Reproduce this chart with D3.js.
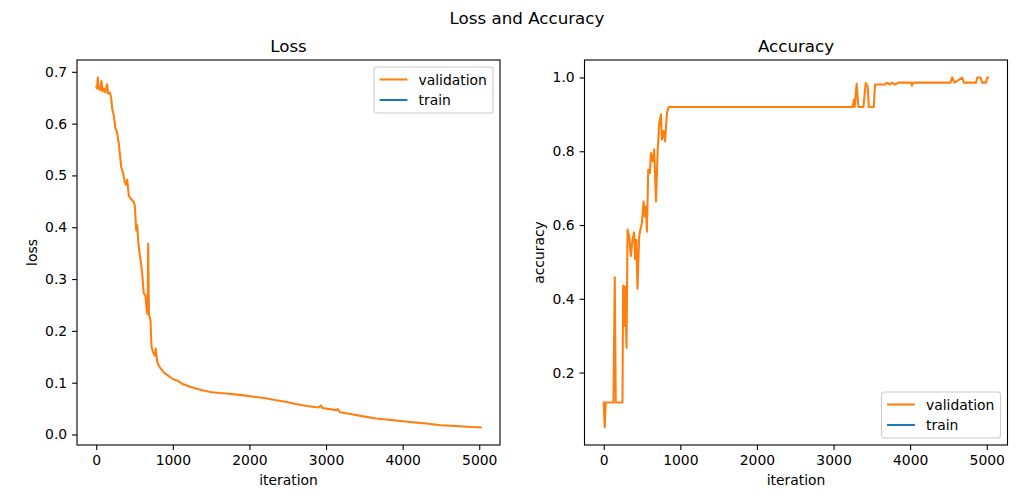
<!DOCTYPE html>
<html>
<head>
<meta charset="utf-8">
<script src="https://cdn.jsdelivr.net/npm/d3@7"></script>
<style>
  body { margin: 0; background: #fff; }
  text { font-family: "DejaVu Sans", sans-serif; fill: #000; }
</style>
</head>
<body>
<div id="chart"></div>
<script>
const width = 1030;
const height = 498;

const xTicks = [0, 1000, 2000, 3000, 4000, 5000];
const lossTicks = [0.0, 0.1, 0.2, 0.3, 0.4, 0.5, 0.6, 0.7];
const accTicks = [0.2, 0.4, 0.6, 0.8, 1.0];
const seriesNames = ["validation", "train"];
const seriesColors = ["#ff7f0e", "#1f77b4"];

// validation loss
const valLossIter = [0, 10, 21, 30, 50, 69, 80, 100, 120, 143, 155, 177, 195, 209, 230, 252, 270, 295, 310, 326,
  350, 373, 390, 404, 425, 450, 470, 490, 505, 522, 535, 550, 569, 585, 600, 621, 643, 659, 672, 678,
  688, 700, 708, 722, 740, 751, 765, 777, 796, 820, 839, 880, 926, 970, 1012, 1060, 1120, 1229, 1300, 1400,
  1490, 1600, 1700, 1838, 1950, 2050, 2142, 2250, 2350, 2490, 2600, 2750, 2900, 2933, 2950, 3050, 3140, 3150, 3184, 3300,
  3488, 3650, 3879, 4100, 4314, 4500, 4748, 4900, 5020];
const valLoss = [0.672, 0.668, 0.689, 0.668, 0.665, 0.682, 0.662, 0.668, 0.660, 0.676, 0.658, 0.660, 0.650, 0.628, 0.615, 0.590, 0.585, 0.561, 0.540, 0.516,
  0.505, 0.487, 0.482, 0.492, 0.461, 0.455, 0.452, 0.449, 0.440, 0.394, 0.404, 0.370, 0.346, 0.330, 0.310, 0.272, 0.269, 0.240, 0.232, 0.368,
  0.232, 0.225, 0.221, 0.169, 0.160, 0.156, 0.152, 0.166, 0.140, 0.132, 0.128, 0.120, 0.115, 0.110, 0.106, 0.104, 0.098, 0.092, 0.089, 0.085,
  0.082, 0.080, 0.079, 0.077, 0.075, 0.073, 0.0713, 0.069, 0.066, 0.0628, 0.059, 0.055, 0.052, 0.056, 0.051, 0.049, 0.047, 0.049, 0.043, 0.040,
  0.035, 0.031, 0.0275, 0.024, 0.0212, 0.018, 0.016, 0.0145, 0.0135];

// validation accuracy
const valAccIter = [0, 13, 26, 127, 144, 157, 245, 253, 271, 279, 298, 311, 332, 354, 375, 397, 410, 425, 441, 463,
  480, 498, 520, 537, 552, 564, 581, 603, 616, 638, 659, 682, 704, 725, 747, 760, 782, 800, 826, 848,
  3250, 3267, 3276, 3302, 3324, 3390, 3420, 3447, 3460, 3525, 3542, 3674, 3696, 3735, 3761, 3801, 3849, 4010, 4024, 4040,
  4526, 4548, 4583, 4679, 4701, 4860, 4876, 4919, 4941, 4990, 5007, 5020];
const valAcc = [0.119, 0.051, 0.119, 0.119, 0.458, 0.119, 0.119, 0.436, 0.326, 0.434, 0.267, 0.588, 0.570, 0.516, 0.560, 0.580, 0.507, 0.560, 0.427, 0.570,
  0.590, 0.605, 0.664, 0.623, 0.650, 0.582, 0.750, 0.741, 0.795, 0.773, 0.805, 0.664, 0.800, 0.877, 0.900, 0.832, 0.855, 0.827, 0.904, 0.920,
  0.920, 0.940, 0.920, 0.983, 0.920, 0.920, 0.985, 0.975, 0.920, 0.920, 0.981, 0.981, 0.986, 0.981, 0.986, 0.981, 0.986, 0.986, 0.978, 0.986,
  0.986, 1.0, 0.986, 1.0, 0.986, 0.986, 1.0, 1.0, 0.986, 0.986, 1.0, 1.0];

// train series is in the legend but has no visible points
const trainLossIter = [];
const trainLoss = [];
const trainAccIter = [];
const trainAcc = [];

const svg = d3.select("#chart").append("svg")
    .attr("width", width)
    .attr("height", height);

svg.append("rect").attr("width", width).attr("height", height).attr("fill", "#fff");

svg.append("text")
    .attr("x", 527)
    .attr("y", 24)
    .attr("text-anchor", "middle")
    .attr("font-size", "16.7px")
    .text("Loss and Accuracy");

function zip(xs, ys) {
    return xs.map((x, i) => ({x: x, y: ys[i]}));
}

function padExtent(values) {
    const [lo, hi] = d3.extent(values);
    const m = (hi - lo) * 0.05;
    return [lo - m, hi + m];
}

function drawPanel(opt) {
    const {left, right, top, bottom} = opt;
    const allX = opt.series.flatMap(s => s.data.map(d => d.x));
    const allY = opt.series.flatMap(s => s.data.map(d => d.y));

    const x = d3.scaleLinear().domain(padExtent(allX)).range([left, right]);
    const y = d3.scaleLinear().domain(padExtent(allY)).range([bottom, top]);

    const g = svg.append("g");

    const line = d3.line()
        .x(d => x(d.x))
        .y(d => y(d.y));

    // series
    opt.series.forEach(s => {
        if (!s.data.length) return;
        g.append("path")
            .attr("fill", "none")
            .attr("stroke", s.color)
            .attr("stroke-width", 2.08)
            .attr("stroke-linejoin", "round")
            .attr("stroke-linecap", "square")
            .attr("d", line(s.data));
    });

    // axes
    const xAxis = g.append("g")
        .attr("transform", `translate(0,${bottom})`)
        .call(d3.axisBottom(x).tickValues(xTicks).tickFormat(d3.format("d")).tickSizeInner(4.9).tickSizeOuter(0).tickPadding(4.9));
    const yAxis = g.append("g")
        .attr("transform", `translate(${left},0)`)
        .call(d3.axisLeft(y).tickValues(opt.yTicks).tickFormat(d3.format(".1f")).tickSizeInner(4.9).tickSizeOuter(0).tickPadding(4.9));

    [xAxis, yAxis].forEach(a => {
        a.select(".domain").remove();
        a.selectAll(".tick line").attr("stroke", "#000").attr("stroke-width", 1.1);
        a.selectAll(".tick text")
            .attr("font-family", "DejaVu Sans")
            .attr("font-size", "13.9px")
            .attr("fill", "#000");
    });

    // frame
    g.append("rect")
        .attr("x", left)
        .attr("y", top)
        .attr("width", right - left)
        .attr("height", bottom - top)
        .attr("fill", "none")
        .attr("stroke", "#000")
        .attr("stroke-width", 1.1);

    g.append("text")
        .attr("x", (left + right) / 2)
        .attr("y", top - 8.3)
        .attr("text-anchor", "middle")
        .attr("font-size", "16.7px")
        .text(opt.title);

    g.append("text")
        .attr("x", (left + right) / 2)
        .attr("y", 485)
        .attr("text-anchor", "middle")
        .attr("font-size", "13.9px")
        .text("iteration");

    g.append("text")
        .attr("transform", `translate(${opt.yLabelX},${(top + bottom) / 2}) rotate(-90)`)
        .attr("text-anchor", "middle")
        .attr("font-size", "13.9px")
        .text(opt.yLabel);

    // legend
    const lw = 119, lh = 46;
    const lx = right - 7 - lw;
    const ly = opt.legendPos === "upper" ? top + 7 : bottom - 7 - lh;
    const leg = g.append("g").attr("transform", `translate(${lx},${ly})`);
    leg.append("rect")
        .attr("width", lw)
        .attr("height", lh)
        .attr("rx", 2.8)
        .attr("fill", "#fff")
        .attr("fill-opacity", 0.8)
        .attr("stroke", "#cccccc")
        .attr("stroke-width", 1.1);
    opt.series.forEach((s, i) => {
        const cy = 12.5 + i * 20.5;
        leg.append("line")
            .attr("x1", 5.6)
            .attr("x2", 33.4)
            .attr("y1", cy)
            .attr("y2", cy)
            .attr("stroke", s.color)
            .attr("stroke-width", 2.08);
        leg.append("text")
            .attr("x", 44.5)
            .attr("y", cy + 5)
            .attr("font-size", "13.9px")
            .text(s.name);
    });
}

drawPanel({
    left: 77, right: 500, top: 60, bottom: 445,
    title: "Loss", yLabel: "loss", yLabelX: 37,
    yTicks: lossTicks, legendPos: "upper",
    series: [
        {name: seriesNames[0], color: seriesColors[0], data: zip(valLossIter, valLoss)},
        {name: seriesNames[1], color: seriesColors[1], data: zip(trainLossIter, trainLoss)}
    ]
});

drawPanel({
    left: 584.5, right: 1007.5, top: 60, bottom: 445,
    title: "Accuracy", yLabel: "accuracy", yLabelX: 544,
    yTicks: accTicks, legendPos: "lower",
    series: [
        {name: seriesNames[0], color: seriesColors[0], data: zip(valAccIter, valAcc)},
        {name: seriesNames[1], color: seriesColors[1], data: zip(trainAccIter, trainAcc)}
    ]
});
</script>
</body>
</html>
